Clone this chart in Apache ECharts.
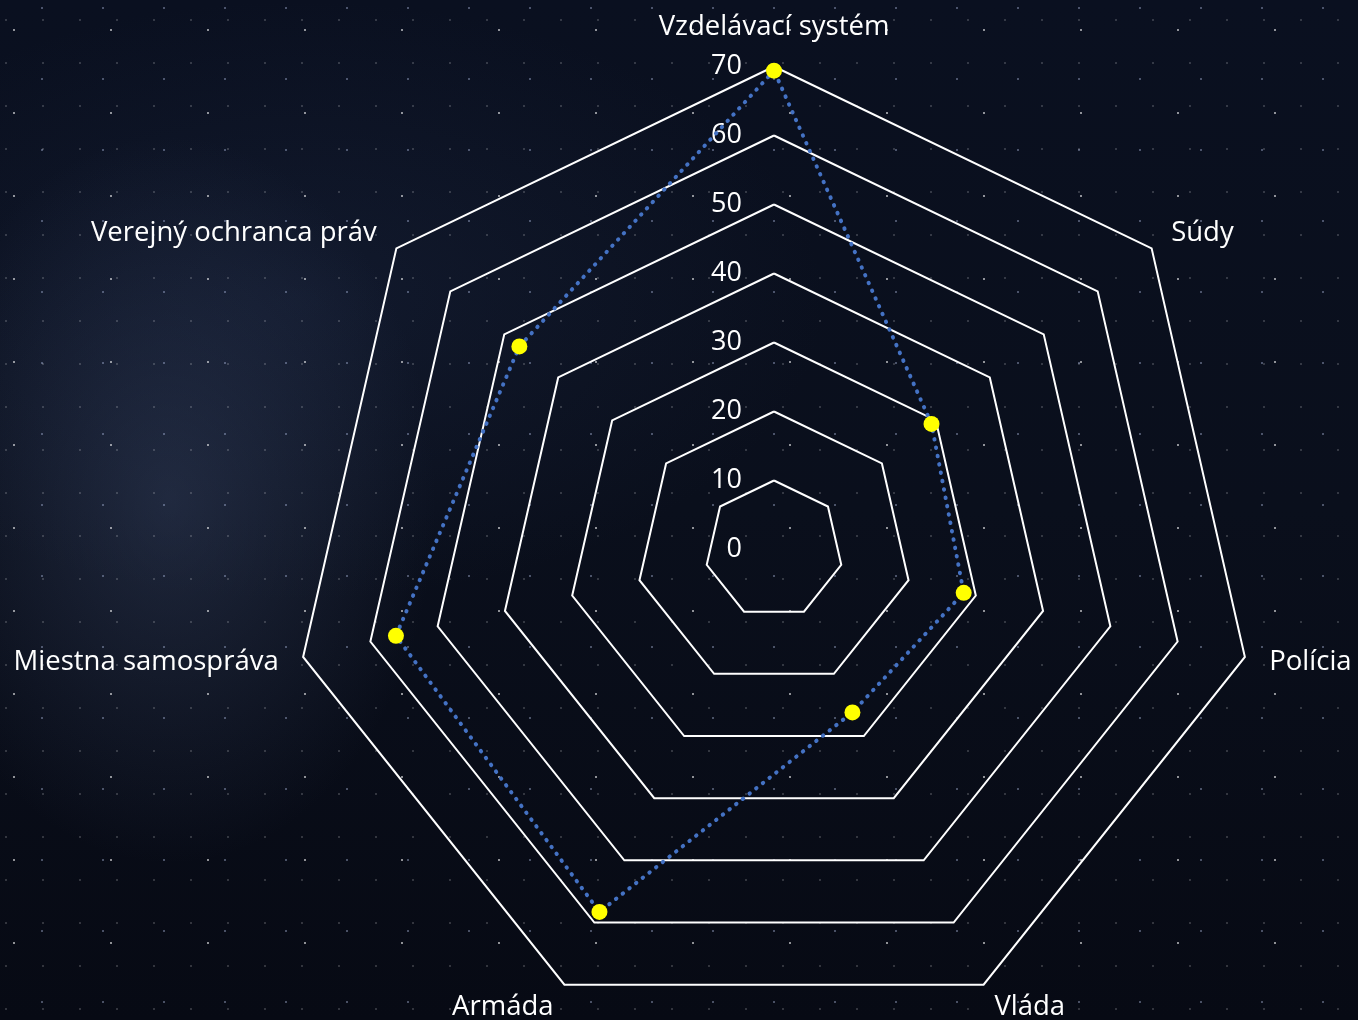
<!DOCTYPE html>
<html>
<head>
<meta charset="utf-8">
<script src="https://cdn.jsdelivr.net/npm/echarts@6/dist/echarts.min.js"></script>
<style>
  html, body { margin: 0; padding: 0; width: 1358px; height: 1020px; overflow: hidden; }
  body {
    background-color: #080c17;
    background-image:
      radial-gradient(circle at 1px 1px, rgba(255,255,255,0.55) 0.8px, transparent 1.3px),
      radial-gradient(circle at 1px 1px, rgba(200,215,255,0.35) 0.7px, transparent 1.2px),
      radial-gradient(circle at 1px 1px, rgba(255,255,255,0.22) 0.6px, transparent 1.1px),
      radial-gradient(ellipse 380px 520px at 170px 500px, rgba(70,85,120,0.35), transparent 70%),
      radial-gradient(ellipse 700px 400px at 300px 300px, rgba(40,55,90,0.25), transparent 75%),
      linear-gradient(180deg, #0a1020 0%, #0a0f1c 50%, #070a14 100%);
    background-size: 97px 83px, 61px 71px, 37px 43px, 100% 100%, 100% 100%, 100% 100%;
    background-position: 13px 29px, 41px 7px, 5px 19px, 0 0, 0 0, 0 0;
  }
  #chart { width: 1358px; height: 1020px; }
</style>
</head>
<body>
<div id="chart"></div>
<script>
const categories = ['Vzdelávací systém', 'Súdy', 'Polícia', 'Vláda', 'Armáda', 'Miestna samospráva', 'Verejný ochranca práv'];
const values = [69.4, 29.2, 28.2, 26.2, 58.3, 56.2, 47.2];
const axisMax = 70;
const axisSplits = 7;

// ECharts lays radar axes counter-clockwise; reorder so the chart reads clockwise.
const order = [0].concat(categories.map((_, i) => i).slice(1).reverse());

const chart = echarts.init(document.getElementById('chart'), null, { renderer: 'canvas' });

const indicator = order.map((idx, i) => ({
  name: categories[idx],
  min: 0,
  max: axisMax,
  axisLabel: { show: i === 0 }
}));
const orderedValues = order.map(idx => values[idx]);

const font = '"Open Sans", Lato, sans-serif';

chart.setOption({
  backgroundColor: 'transparent',
  animation: false,
  radar: {
    center: [774, 549.5],
    radius: 483,
    startAngle: 90,
    shape: 'polygon',
    splitNumber: axisSplits,
    indicator: indicator,
    nameGap: 25,
    axisName: {
      color: '#ffffff',
      fontSize: 27.5,
      fontFamily: font
    },
    axisLine: { show: false },
    axisTick: { show: false },
    axisLabel: {
      show: true,
      color: '#ffffff',
      fontSize: 27,
      fontFamily: font,
      margin: 32,
      showMinLabel: true,
      showMaxLabel: true
    },
    splitLine: { lineStyle: { color: '#ffffff', width: 2 } },
    splitArea: { show: false }
  },
  series: [{
    type: 'radar',
    data: [{
      value: orderedValues,
      symbol: 'circle',
      symbolSize: 16,
      itemStyle: { color: '#ffff00', borderWidth: 0 },
      lineStyle: { color: '#4472c4', width: 4, type: [0.5, 8], cap: 'round' }
    }]
  }]
});
</script>
</body>
</html>
